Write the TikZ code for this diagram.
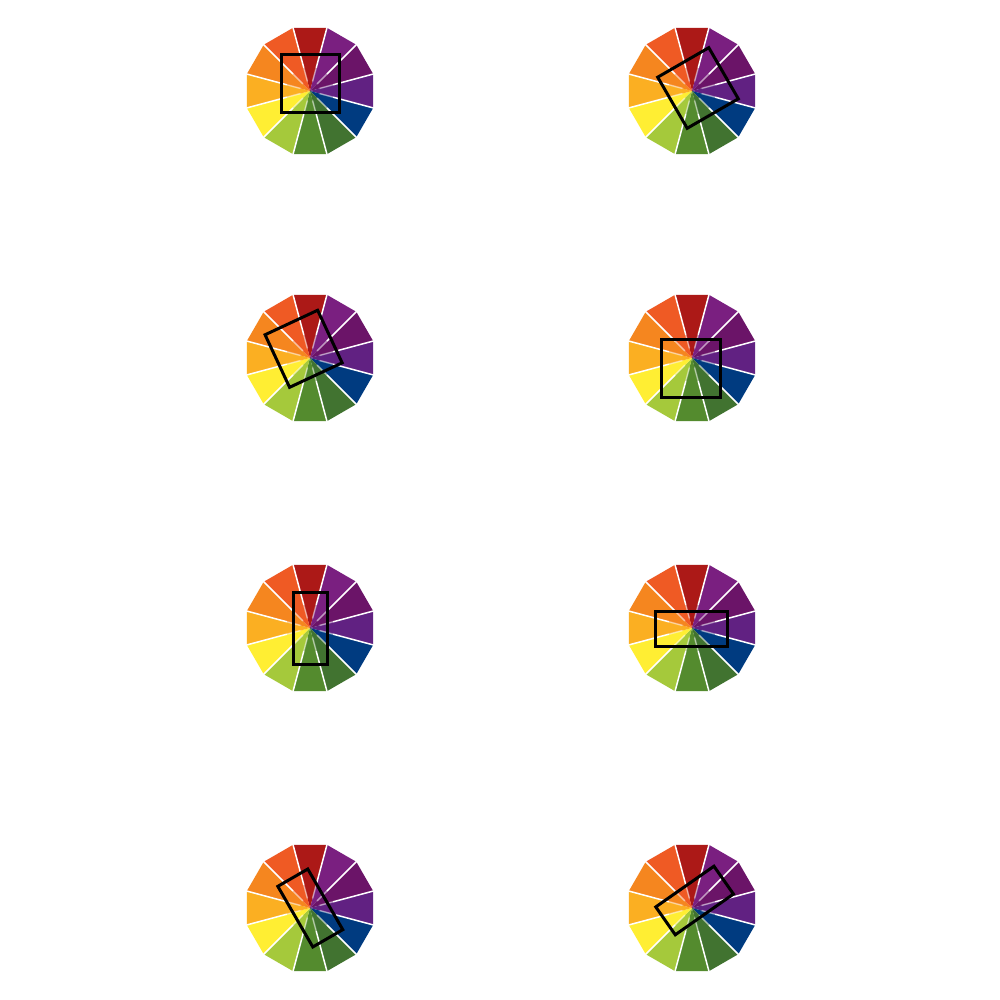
\documentclass[tikz,border=0pt]{standalone}
\begin{document}
\begin{tikzpicture}[x=1pt,y=1pt]
\definecolor{cA}{HTML}{AC1917}
\definecolor{cB}{HTML}{7A1F80}
\definecolor{cC}{HTML}{6B1468}
\definecolor{cD}{HTML}{612182}
\definecolor{cE}{HTML}{003B80}
\definecolor{cF}{HTML}{417330}
\definecolor{cG}{HTML}{548B2E}
\definecolor{cH}{HTML}{A5C93B}
\definecolor{cI}{HTML}{FFEE33}
\definecolor{cJ}{HTML}{FBAF22}
\definecolor{cK}{HTML}{F5861F}
\definecolor{cL}{HTML}{EF5A24}
\tikzset{frame/.style={draw=black,line width=3pt,fill=none}}
\fill[white] (0,0) rectangle (1000,1000);
\useasboundingbox (0,0) rectangle (1000,1000);
\newcommand\wheel[2]{%
  \begin{scope}[shift={(#1,#2)}]
  \foreach \c [count=\i from 0] in {cA,cB,cC,cD,cE,cF,cG,cH,cI,cJ,cK,cL} {
    \fill[\c] (0,0) -- ({90-30*\i+15}:65.4) -- ({90-30*\i-15}:65.4) -- cycle;
  }
  \foreach \i in {0,...,11} {
    \draw[white,line width=1.5pt,opacity=0.5] ({90-30*\i+15}:10) -- ({90-30*\i+15}:24);
    \draw[white,line width=1.5pt] ({90-30*\i+15}:24) -- ({90-30*\i+15}:67);
  }
  \end{scope}}
\wheel{310}{909}
\wheel{692}{909}
\wheel{310}{642}
\wheel{692}{642}
\wheel{310}{372}
\wheel{692}{372}
\wheel{310}{92}
\wheel{692}{92}
% rectangles
\draw[frame,shift={(310,916.5)}] (-29,-29) rectangle (29,29);
\draw[frame,shift={(698,912)},rotate=30] (-29.5,-29.5) rectangle (29.5,29.5);
\draw[frame,shift={(303.6,651.2)},rotate=25] (-29,-29) rectangle (29,29);
\draw[frame,shift={(691.2,631.2)}] (-29.5,-29) rectangle (29.5,29);
\draw[frame,shift={(310.5,371.2)}] (-17,-36) rectangle (17,36);
\draw[frame,shift={(691.5,371.2)}] (-36,-17.5) rectangle (36,17.5);
\draw[frame,shift={(310.3,92)},rotate=-60] (-35,-17.3) rectangle (35,17.3);
\draw[frame,shift={(694.6,99.5)},rotate=35] (-35.5,-17) rectangle (35.5,17);
\end{tikzpicture}
\end{document}
